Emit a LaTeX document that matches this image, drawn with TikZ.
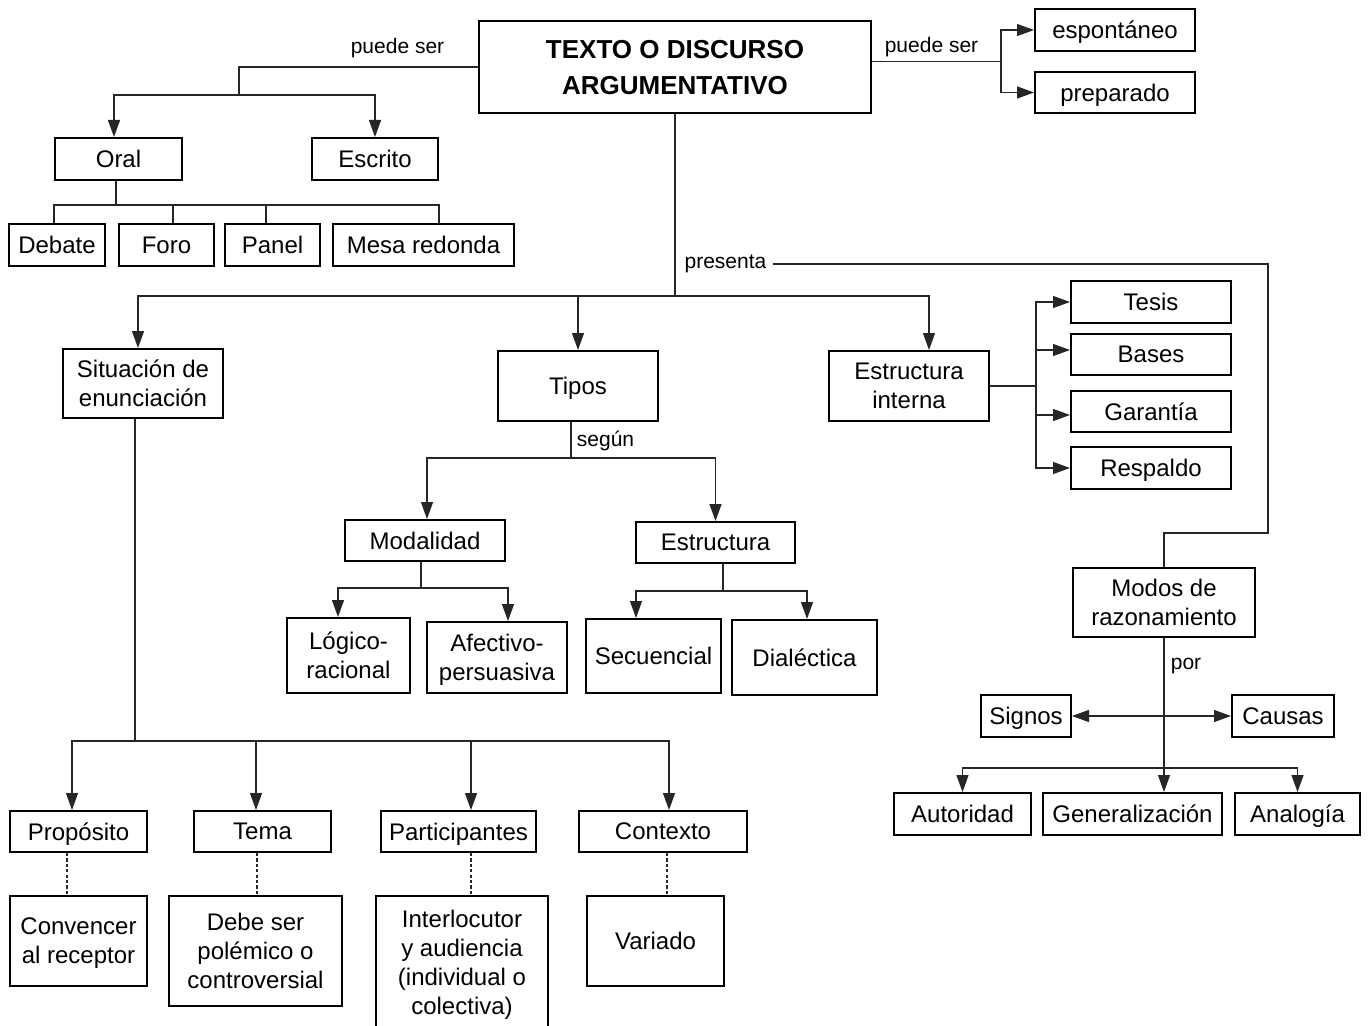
\documentclass[tikz,border=0pt]{standalone}
\usepackage{fontspec}
\setmainfont{Liberation Sans}
\usetikzlibrary{arrows.meta}
\begin{document}
\begin{tikzpicture}[x=0.5pt,y=-0.5pt,
  box/.style={draw=black, line width=1pt, fill=white, inner sep=0pt, align=center,
    text depth=0pt, font=\fontsize{12}{14.5}\selectfont},
  titlebox/.style={box, font=\fontsize{13}{18}\selectfont\bfseries},
  lbl/.style={inner sep=1pt, font=\fontsize{10.5}{12}\selectfont},
  conn/.style={draw=black!85, line width=0.65pt},
  arr/.style={conn, -{Triangle[length=8.5pt,width=6pt]}},
  darr/.style={conn, {Triangle[length=8.5pt,width=6pt]}-{Triangle[length=8.5pt,width=6pt]}},
  dsh/.style={conn, dash pattern=on 1.6pt off 1.1pt}]
\useasboundingbox (0,0) rectangle (1368,1026);
\clip (0,0) rectangle (1368,1026);
\fill[white] (0,0) rectangle (1368,1026);

% ---- nodes ----
\node[titlebox, minimum width=196pt, minimum height=46pt] (title) at (675,67) {TEXTO O DISCURSO\\ARGUMENTATIVO};
\node[box, minimum width=80pt, minimum height=21pt] (espont) at (1115,30) {espontáneo};
\node[box, minimum width=80pt, minimum height=20.5pt] (prep) at (1115,92.5) {preparado};

\node[box, minimum width=63.5pt, minimum height=21pt] (oral) at (118.5,159) {Oral};
\node[box, minimum width=63pt, minimum height=21pt] (escrito) at (375,159) {Escrito};
\node[box, minimum width=48pt, minimum height=21pt] (debate) at (57,245) {Debate};
\node[box, minimum width=47.5pt, minimum height=21pt] (foro) at (166.5,245) {Foro};
\node[box, minimum width=47.5pt, minimum height=21pt] (panel) at (272.5,245) {Panel};
\node[box, minimum width=90.5pt, minimum height=21pt] (mesa) at (423.5,245) {Mesa redonda};

\node[box, minimum width=80pt, minimum height=34.5pt] (sit) at (143,383.5) {Situación de\\enunciación};
\node[box, minimum width=80pt, minimum height=35pt] (tipos) at (578,386) {Tipos};
\node[box, minimum width=80pt, minimum height=35pt] (estint) at (909,386) {Estructura\\interna};

\node[box, minimum width=80pt, minimum height=21pt] (tesis) at (1151,302) {Tesis};
\node[box, minimum width=80pt, minimum height=20.5pt] (bases) at (1151,354.5) {Bases};
\node[box, minimum width=80pt, minimum height=20.5pt] (garantia) at (1151,411.5) {Garantía};
\node[box, minimum width=80pt, minimum height=21pt] (respaldo) at (1151,468) {Respaldo};

\node[box, minimum width=80pt, minimum height=20.5pt] (modal) at (425,540.5) {Modalidad};
\node[box, minimum width=79.5pt, minimum height=20.5pt] (estr) at (715.5,542.5) {Estructura};
\node[box, minimum width=61.5pt, minimum height=37.5pt] (logico) at (348.5,655.5) {Lógico-\\racional};
\node[box, minimum width=70pt, minimum height=35.5pt] (afect) at (497,657.5) {Afectivo-\\persuasiva};
\node[box, minimum width=67.5pt, minimum height=37pt] (secu) at (653.5,656) {Secuencial};
\node[box, minimum width=72.5pt, minimum height=37.5pt] (dial) at (804.5,657.5) {Dialéctica};

\node[box, minimum width=91pt, minimum height=34.5pt] (modos) at (1164,602.5) {Modos de\\razonamiento};
\node[box, minimum width=45pt, minimum height=21pt] (signos) at (1026,716) {Signos};
\node[box, minimum width=51pt, minimum height=21pt] (causas) at (1283,716) {Causas};
\node[box, minimum width=68.5pt, minimum height=21pt] (autor) at (962.5,814) {Autoridad};
\node[box, minimum width=89.5pt, minimum height=21pt] (gen) at (1132.5,814) {Generalización};
\node[box, minimum width=62.5pt, minimum height=21pt] (analog) at (1297.5,814) {Analogía};

\node[box, minimum width=68.5pt, minimum height=20.5pt] (propos) at (78.5,831.5) {Propósito};
\node[box, minimum width=68.5pt, minimum height=20.5pt] (tema) at (262.5,831.5) {Tema};
\node[box, minimum width=77.5pt, minimum height=20.5pt] (partic) at (458.5,831.5) {Participantes};
\node[box, minimum width=84pt, minimum height=20.5pt] (contexto) at (663,831.5) {Contexto};

\node[box, minimum width=68.5pt, minimum height=45pt] (conv) at (78.5,941) {Convencer\\al receptor};
\node[box, minimum width=86.5pt, minimum height=55pt] (debe) at (255.5,951) {Debe ser\\polémico o\\controversial};
\node[box, minimum width=86pt, minimum height=66pt] (inter) at (462,962) {Interlocutor\\y audiencia\\(individual o\\colectiva)};
\node[box, minimum width=68.5pt, minimum height=45pt] (variado) at (655.5,941) {Variado};

% ---- labels ----
\node[lbl] (lblL) at (397.5,48) {puede ser};
\node[lbl] (lblR) at (931.5,47) {puede ser};
\node[lbl] (lblpres) at (725.5,264) {presenta};
\node[lbl] (lblseg) at (605.5,441) {según};
\node[lbl] (lblpor) at (1186,666) {por};

% ---- junctions ----
\coordinate (jL) at (239,95);
\coordinate (jR) at (1001,61.5);
\coordinate (jO) at (116,205);
\coordinate (jT) at (675,296);
\coordinate (jP1) at (1268,264);
\coordinate (jP2) at (1268,533);
\coordinate (jP3) at (1164,533);
\coordinate (jE) at (1036,386);
\coordinate (jTi) at (571,458);
\coordinate (jMo) at (421,588);
\coordinate (jEs) at (723,591);
\coordinate (jS) at (135,741);
\coordinate (jMd) at (1164,768);

% ---- connectors ----
\draw[conn] (title.west) -| (jL);
\draw[arr] (jL) -| ([xshift=-2.25pt]oral.north);
\draw[arr] (jL) -| (escrito.north);

\draw[conn] (title.east |- jR) -- (jR);
\draw[arr] (jR) |- (espont.west);
\draw[arr] (jR) |- (prep.west);

\draw[conn] (oral.south -| jO) -- (jO);
\draw[conn] (jO) -| ([xshift=-1.5pt]debate.north);
\draw[conn] (jO) -| ([xshift=3.25pt]foro.north);
\draw[conn] (jO) -| ([xshift=-3.25pt]panel.north);
\draw[conn] (jO) -| ([xshift=7.75pt]mesa.north);

\draw[conn] (title.south) -- (jT);
\draw[arr] (jT) -| ([xshift=-2.5pt]sit.north);
\draw[arr] (jT) -| (tipos.north);
\draw[arr] (jT) -| ([xshift=10pt]estint.north);

\draw[conn] ([xshift=2pt]lblpres.east) -- (jP1) -- (jP2) -- (jP3) -- (modos.north);

\draw[conn] (estint.east) -- (jE);
\draw[arr] (jE) |- (tesis.west);
\draw[arr] (jE) |- ([yshift=2.25pt]bases.west);
\draw[arr] (jE) |- ([yshift=-1.75pt]garantia.west);
\draw[arr] (jE) |- (respaldo.west);

\draw[conn] (tipos.south -| jTi) -- (jTi);
\draw[arr] (jTi) -| ([xshift=1pt]modal.north);
\draw[arr] (jTi) -| (estr.north);

\draw[conn] (modal.south -| jMo) -- (jMo);
\draw[arr] (jMo) -| ([xshift=-5.25pt]logico.north);
\draw[arr] (jMo) -| ([xshift=5.5pt]afect.north);

\draw[conn] (estr.south -| jEs) -- (jEs);
\draw[arr] (jEs) -| ([xshift=-8.75pt]secu.north);
\draw[arr] (jEs) -| ([xshift=1.25pt]dial.north);

\draw[conn] (sit.south -| jS) -- (jS);
\draw[arr] (jS) -| ([xshift=-3.25pt]propos.north);
\draw[arr] (jS) -| ([xshift=-3.25pt]tema.north);
\draw[arr] (jS) -| ([xshift=6.25pt]partic.north);
\draw[arr] (jS) -| ([xshift=3pt]contexto.north);

\draw[dsh] ([xshift=-5.75pt]propos.south) -- ([xshift=-5.75pt]conv.north);
\draw[dsh] ([xshift=-2.75pt]tema.south) -- ([xshift=0.75pt]debe.north);
\draw[dsh] ([xshift=6.25pt]partic.south) -- ([xshift=4.5pt]inter.north);
\draw[dsh] ([xshift=2pt]contexto.south) -- ([xshift=5.75pt]variado.north);

\draw[arr] (modos.south) -- (gen.north -| modos.south);
\draw[darr] (signos.east) -- (causas.west);
\draw[arr] (jMd) -| (autor.north);
\draw[arr] (jMd) -| (analog.north);
\end{tikzpicture}
\end{document}
